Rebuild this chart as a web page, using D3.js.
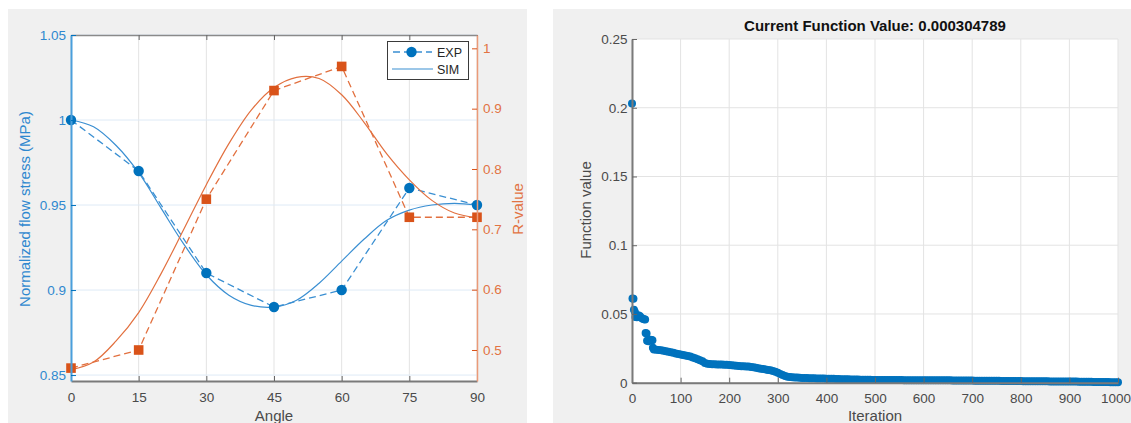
<!DOCTYPE html>
<html><head><meta charset="utf-8">
<script src="https://cdn.jsdelivr.net/npm/d3@7/dist/d3.min.js"></script>
<style>
html,body{margin:0;padding:0;background:#fff;}
svg{display:block;font-family:"Liberation Sans",Arial,Helvetica,sans-serif;}
</style></head><body>
<svg id="c" width="1131" height="423"></svg>
<script>
// ---------- Left chart data ----------
const angles = [0, 15, 30, 45, 60, 75, 90];
const expStress = [1.00, 0.97, 0.91, 0.89, 0.90, 0.96, 0.95];
const expR = [0.47, 0.50, 0.75, 0.93, 0.97, 0.72, 0.72];
const simAngles = [0,5,10,15,20,25,30,35,40,45,50,55,60,65,70,75,80,85,90];
const simStress = [1.000,0.996,0.985,0.969,0.948,0.927,0.909,0.897,0.891,0.890,0.894,0.904,0.917,0.930,0.941,0.947,0.950,0.951,0.950];
const simR = [0.467,0.480,0.515,0.562,0.627,0.700,0.774,0.842,0.898,0.935,0.952,0.950,0.923,0.877,0.825,0.782,0.748,0.727,0.719];
const angleTicks = [0, 15, 30, 45, 60, 75, 90];
const stressTicks = [0.85, 0.9, 0.95, 1, 1.05];
const stressTickLabels = ["0.85", "0.9", "0.95", "1", "1.05"];
const rTicks = [0.5, 0.6, 0.7, 0.8, 0.9, 1];
const rTickLabels = ["0.5", "0.6", "0.7", "0.8", "0.9", "1"];
const legendLabels = ["EXP", "SIM"];

// ---------- Right chart data ----------
const fnTitle = "Current Function Value: 0.000304789";
const iterTicks = [0,100,200,300,400,500,600,700,800,900,1000];
const fnTicks = [0, 0.05, 0.1, 0.15, 0.2, 0.25];
const fnTickLabels = ["0", "0.05", "0.1", "0.15", "0.2", "0.25"];
const fnPoints = [
[0,0.2030],[1,0.0612],[3,0.0610],[4,0.0530],[6,0.0515],[7,0.0478],[10,0.0476],[13,0.0490],[16,0.0486],[19,0.0472],
[22,0.0465],[25,0.0462],[27,0.0460],[28,0.0362],[30,0.0358],[31,0.0305],[34,0.0302],[38,0.0312],[40,0.0310],[42,0.0308],
[43,0.0255],[45,0.0242],[50,0.0240],[55,0.0238],[60,0.0236],[65,0.0233],[70,0.0229],[75,0.0225],[80,0.0221],[85,0.0217],
[90,0.0213],[95,0.0209],[100,0.0205],[105,0.0201],[110,0.0198],[115,0.0195],[120,0.0190],[125,0.0183],[130,0.0177],[135,0.0171],
[140,0.0164],[145,0.0156],[150,0.0143],[155,0.0137],[160,0.0136],[165,0.0135],[170,0.0134],[175,0.0133],[180,0.0133],[185,0.0132],
[190,0.0131],[195,0.0130],[200,0.0129],[205,0.0127],[210,0.0125],[215,0.0123],[220,0.0121],[225,0.0120],[230,0.0119],[235,0.0118],
[240,0.0117],[245,0.0115],[250,0.0112],[255,0.0108],[260,0.0105],[265,0.0102],[270,0.0099],[275,0.0096],[280,0.0093],[285,0.0090],
[290,0.0085],[295,0.0079],[300,0.0072],[305,0.0064],[310,0.0056],[315,0.0049],[320,0.0044],[325,0.0041],[330,0.0039],[335,0.0038],
[340,0.0037],[345,0.0036],[350,0.0035],[355,0.0035],[360,0.0034],[365,0.0033],[370,0.0032],[375,0.0032],[380,0.0031],[385,0.0031],
[390,0.0030],[395,0.0030],[400,0.0029],[405,0.0029],[410,0.0028],[415,0.0028],[420,0.0027],[425,0.0027],[430,0.0026],[435,0.0026],
[440,0.0025],[445,0.0025],[450,0.0024],[455,0.0024],[460,0.0023],[465,0.0023],[470,0.0022],[475,0.0022],[480,0.0021],[485,0.0021],
[490,0.0021],[495,0.0020],[500,0.0020],[505,0.0020],[510,0.0020],[515,0.0020],[520,0.0019],[525,0.0019],[530,0.0019],[535,0.0019],
[540,0.0019],[545,0.0019],[550,0.0019],[555,0.0019],[560,0.0018],[565,0.0018],[570,0.0018],[575,0.0018],[580,0.0018],[585,0.0018],
[590,0.0018],[595,0.0018],[600,0.0018],[605,0.0018],[610,0.0017],[615,0.0017],[620,0.0017],[625,0.0017],[630,0.0017],[635,0.0017],
[640,0.0017],[645,0.0017],[650,0.0017],[655,0.0017],[660,0.0016],[665,0.0016],[670,0.0016],[675,0.0016],[680,0.0016],[685,0.0016],
[690,0.0016],[695,0.0016],[700,0.0016],[705,0.0015],[710,0.0015],[715,0.0015],[720,0.0015],[725,0.0015],[730,0.0015],[735,0.0014],
[740,0.0014],[745,0.0014],[750,0.0014],[755,0.0014],[760,0.0013],[765,0.0013],[770,0.0013],[775,0.0013],[780,0.0012],[785,0.0012],
[790,0.0012],[795,0.0012],[800,0.0012],[805,0.0011],[810,0.0011],[815,0.0011],[820,0.0011],[825,0.0011],[830,0.0010],[835,0.0010],
[840,0.0010],[845,0.0010],[850,0.0010],[855,0.0010],[860,0.0009],[865,0.0009],[870,0.0009],[875,0.0009],[880,0.0009],[885,0.0009],
[890,0.0008],[895,0.0008],[900,0.0008],[905,0.0008],[910,0.0008],[915,0.0008],[920,0.0007],[925,0.0007],[930,0.0007],[935,0.0007],
[940,0.0007],[945,0.0007],[950,0.0006],[955,0.0006],[960,0.0006],[965,0.0006],[970,0.0005],[975,0.0005],[980,0.0005],[985,0.0004],
[990,0.0004],[995,0.0004],[1000,0.0003]
];

// ---------- Styles ----------
const BLUE = "#0072BD", BLUE_LINE = "#3a8fd2", BLUE_TEXT = "#2f88cf";
const ORANGE = "#D95319", ORANGE_LINE = "#e2703f", ORANGE_TEXT = "#e27343";
const GRAY_TEXT = "#4a4a4a", PANEL = "#f0f0f0";
const TICK_FS = "13.5px", LABEL_FS = "15px";

const svg = d3.select("#c");
svg.append("rect").attr("x",0).attr("y",0).attr("width",1131).attr("height",423).attr("fill","#fff");
svg.append("rect").attr("x",8).attr("y",9).attr("width",519).attr("height",414).attr("fill",PANEL);
svg.append("rect").attr("x",553).attr("y",9).attr("width",578).attr("height",414).attr("fill",PANEL);

// ================= LEFT CHART =================
const L = {x0:71, x1:477, y0:35, y1:381};
const x = d3.scaleLinear().domain([0,90]).range([L.x0, L.x1]);
const yL = d3.scaleLinear().domain([0.8465,1.05]).range([L.y1, L.y0]);
const yR = d3.scaleLinear().domain([0.4486,1.0221]).range([L.y1, L.y0]);

const gl = svg.append("g");
gl.append("rect").attr("x",L.x0).attr("y",L.y0).attr("width",L.x1-L.x0).attr("height",L.y1-L.y0).attr("fill","#fff");
// grid
gl.selectAll(".vg").data(angleTicks).join("line")
  .attr("x1",d=>x(d)).attr("x2",d=>x(d)).attr("y1",L.y0).attr("y2",L.y1)
  .attr("stroke","#e3e3e3").attr("stroke-width",1);
gl.selectAll(".hg").data(stressTicks).join("line")
  .attr("x1",L.x0).attr("x2",L.x1).attr("y1",d=>yL(d)).attr("y2",d=>yL(d))
  .attr("stroke","#deeaf6").attr("stroke-width",1);

const plotL = gl.append("g");

const lineStressExp = d3.line().x((d,i)=>x(angles[i])).y(d=>yL(d));
const lineRExp = d3.line().x((d,i)=>x(angles[i])).y(d=>yR(d));
const lineStressSim = d3.line().x((d,i)=>x(simAngles[i])).y(d=>yL(d)).curve(d3.curveCatmullRom);
const lineRSim = d3.line().x((d,i)=>x(simAngles[i])).y(d=>yR(d)).curve(d3.curveCatmullRom);

plotL.append("path").attr("d",lineStressExp(expStress)).attr("fill","none")
  .attr("stroke",BLUE_LINE).attr("stroke-width",1.3).attr("stroke-dasharray","7,4");
plotL.append("path").attr("d",lineStressSim(simStress)).attr("fill","none")
  .attr("stroke",BLUE_LINE).attr("stroke-width",1.2);
plotL.append("path").attr("d",lineRExp(expR)).attr("fill","none")
  .attr("stroke",ORANGE_LINE).attr("stroke-width",1.3).attr("stroke-dasharray","7,4");
plotL.append("path").attr("d",lineRSim(simR)).attr("fill","none")
  .attr("stroke",ORANGE_LINE).attr("stroke-width",1.2);

plotL.selectAll(".cm").data(expStress).join("circle")
  .attr("cx",(d,i)=>x(angles[i])).attr("cy",d=>yL(d)).attr("r",5.2).attr("fill",BLUE);
plotL.selectAll(".sm").data(expR).join("rect")
  .attr("x",(d,i)=>x(angles[i])-4.8).attr("y",d=>yR(d)-4.8).attr("width",9.6).attr("height",9.6).attr("fill",ORANGE);

// axes
const axB = gl.append("g").attr("transform",`translate(0,${L.y1})`)
  .call(d3.axisBottom(x).tickValues(angleTicks).tickSize(-5).tickSizeOuter(0).tickPadding(11));
const axT = gl.append("g").attr("transform",`translate(0,${L.y0})`)
  .call(d3.axisTop(x).tickValues(angleTicks).tickSize(-5).tickSizeOuter(0).tickFormat(""));
const axLft = gl.append("g").attr("transform",`translate(${L.x0},0)`)
  .call(d3.axisLeft(yL).tickValues(stressTicks).tickSize(-5).tickSizeOuter(0).tickPadding(5)
    .tickFormat((d,i)=>stressTickLabels[i]));
const axRgt = gl.append("g").attr("transform",`translate(${L.x1},0)`)
  .call(d3.axisRight(yR).tickValues(rTicks).tickSize(-5).tickSizeOuter(0).tickPadding(6)
    .tickFormat((d,i)=>rTickLabels[i]));

function styleAxis(g, color, textColor, width){
  g.select(".domain").attr("stroke",color).attr("stroke-width",width);
  g.selectAll(".tick line").attr("stroke",color).attr("stroke-width",1);
  g.selectAll(".tick text").attr("fill",textColor).style("font-size",TICK_FS)
    .style("font-family",'"Liberation Sans",Arial,sans-serif');
}
styleAxis(axB, "#7a7a7a", GRAY_TEXT, 2);
styleAxis(axT, "#8a8a8a", GRAY_TEXT, 1.5);
styleAxis(axLft, "#4a9fdc", BLUE_TEXT, 2);
styleAxis(axRgt, "#eb9a78", ORANGE_TEXT, 1.5);
axB.selectAll(".tick line").attr("stroke","#666");
axT.selectAll(".tick line").attr("stroke","#666");
axLft.selectAll(".tick line").attr("stroke",BLUE);
axRgt.selectAll(".tick line").attr("stroke",ORANGE);

// labels
gl.append("text").attr("x",(L.x0+L.x1)/2).attr("y",421).attr("text-anchor","middle")
  .attr("fill",GRAY_TEXT).style("font-size",LABEL_FS).text("Angle");
gl.append("text").attr("transform","translate(25,209) rotate(-90)").attr("text-anchor","middle")
  .attr("dy","0.35em").attr("fill",BLUE_TEXT).style("font-size",LABEL_FS).text("Normalized flow stress (MPa)");
gl.append("text").attr("transform","translate(518,209) rotate(-90)").attr("text-anchor","middle")
  .attr("dy","0.35em").attr("fill",ORANGE_TEXT).style("font-size",LABEL_FS).text("R-value");

// legend
const lg = gl.append("g");
lg.append("rect").attr("x",387.5).attr("y",41.5).attr("width",81).attr("height",38)
  .attr("fill","#fff").attr("stroke","#3a3a3a").attr("stroke-width",1);
lg.append("line").attr("x1",392).attr("x2",432).attr("y1",52).attr("y2",52)
  .attr("stroke",BLUE_LINE).attr("stroke-width",1.3).attr("stroke-dasharray","7,4").attr("stroke-dashoffset",-1);
lg.append("circle").attr("cx",411.5).attr("cy",52).attr("r",5.2).attr("fill",BLUE);
lg.append("line").attr("x1",392).attr("x2",433).attr("y1",69).attr("y2",69)
  .attr("stroke",BLUE_LINE).attr("stroke-width",1.2);
lg.selectAll(".lt").data(legendLabels).join("text")
  .attr("x",437).attr("y",(d,i)=>52+i*17).attr("dy","0.36em")
  .attr("fill","#262626").style("font-size","12.5px").text(d=>d);

// ================= RIGHT CHART =================
const R = {x0:632, x1:1118, y0:39, y1:382.7};
const xi = d3.scaleLinear().domain([0,1000]).range([R.x0, R.x1]);
const yf = d3.scaleLinear().domain([0,0.25]).range([R.y1, R.y0]);
const gr = svg.append("g");
gr.append("rect").attr("x",R.x0).attr("y",R.y0).attr("width",R.x1-R.x0).attr("height",R.y1-R.y0).attr("fill","#fff");
gr.selectAll(".vg").data(iterTicks).join("line")
  .attr("x1",d=>xi(d)).attr("x2",d=>xi(d)).attr("y1",R.y0).attr("y2",R.y1)
  .attr("stroke","#e3e3e3").attr("stroke-width",1);
gr.selectAll(".hg").data(fnTicks).join("line")
  .attr("x1",R.x0).attr("x2",R.x1).attr("y1",d=>yf(d)).attr("y2",d=>yf(d))
  .attr("stroke","#e3e3e3").attr("stroke-width",1);

gr.selectAll(".pt").data(fnPoints).join("circle")
  .attr("cx",d=>xi(d[0])).attr("cy",d=>yf(d[1])).attr("r",4).attr("fill",BLUE);

const rB = gr.append("g").attr("transform",`translate(0,${R.y1})`)
  .call(d3.axisBottom(xi).tickValues(iterTicks).tickSize(-5).tickSizeOuter(0).tickPadding(11).tickFormat(d3.format("d")));
const rL = gr.append("g").attr("transform",`translate(${R.x0},0)`)
  .call(d3.axisLeft(yf).tickValues(fnTicks).tickSize(-5).tickSizeOuter(0).tickPadding(4.5)
    .tickFormat((d,i)=>fnTickLabels[i]));
styleAxis(rB, "#7a7a7a", GRAY_TEXT, 2);
styleAxis(rL, "#7a7a7a", GRAY_TEXT, 2);
rB.selectAll(".tick line").attr("stroke","#666");
rL.selectAll(".tick line").attr("stroke","#666");
// keep the last tick label inside the page
rB.selectAll(".tick text").filter(d=>d===iterTicks[iterTicks.length-1]).attr("dx","-2.5px");

gr.append("text").attr("x",(R.x0+R.x1)/2).attr("y",30.5).attr("text-anchor","middle")
  .attr("fill","#111").style("font-size","15px").style("font-weight","bold").text(fnTitle);
gr.append("text").attr("x",(R.x0+R.x1)/2).attr("y",421).attr("text-anchor","middle")
  .attr("fill",GRAY_TEXT).style("font-size",LABEL_FS).text("Iteration");
gr.append("text").attr("transform","translate(586,210) rotate(-90)").attr("text-anchor","middle")
  .attr("dy","0.35em").attr("fill",GRAY_TEXT).style("font-size",LABEL_FS).text("Function value");
</script>
</body></html>
